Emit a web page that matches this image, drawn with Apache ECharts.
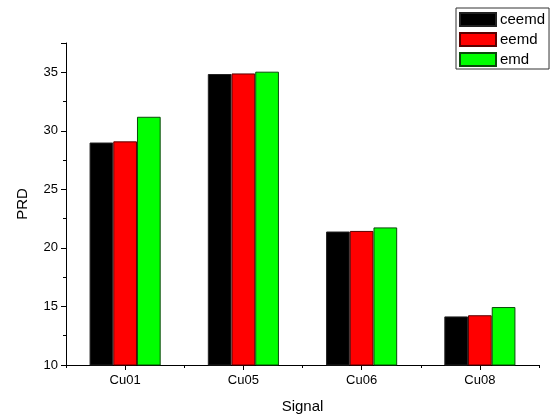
<!DOCTYPE html>
<html>
<head>
<meta charset="utf-8">
<script src="https://cdn.jsdelivr.net/npm/echarts@6/dist/echarts.min.js"></script>
<style>
  html, body { margin: 0; padding: 0; background: #fff; }
  #chart { width: 558px; height: 419px; }
</style>
</head>
<body>
<div id="chart"></div>
<script>
// PRD per signal for each decomposition method
const signals = ['Cu01', 'Cu05', 'Cu06', 'Cu08'];
const ceemd = [29.0, 34.85, 21.4, 14.15];
const eemd  = [29.1, 34.9, 21.45, 14.25];
const emd   = [31.2, 35.05, 21.75, 14.95];
const yTicks = [10, 15, 20, 25, 30, 35];

const FONT = 'Liberation Sans, Arial, sans-serif';

const methods = [
  { name: 'ceemd', data: ceemd, color: '#000000', border: '#222222' },
  { name: 'eemd',  data: eemd,  color: '#ff0000', border: '#5a0000' },
  { name: 'emd',   data: emd,   color: '#00ff00', border: '#0a4a0a' }
];

const chart = echarts.init(document.getElementById('chart'), null, { renderer: 'canvas' });

chart.setOption({
  animation: false,
  backgroundColor: '#ffffff',
  grid: { left: 66, right: 19, top: 43, bottom: 51, containLabel: false },
  legend: {
    orient: 'vertical',
    left: 456,
    top: 8,
    padding: [4, 4, 2, 3],
    itemWidth: 36,
    itemHeight: 13,
    itemGap: 5,
    borderColor: '#333',
    borderWidth: 1,
    backgroundColor: '#fff',
    icon: 'rect',
    textStyle: { fontFamily: FONT, fontSize: 15, lineHeight: 14, color: '#000', padding: [0, 0, 0, -1] },
    data: methods.map(m => m.name)
  },
  xAxis: [
    {
      type: 'category',
      data: signals,
      name: 'Signal',
      nameLocation: 'middle',
      nameGap: 34,
      nameTextStyle: { fontFamily: FONT, fontSize: 15, color: '#000' },
      axisLine: { lineStyle: { color: '#000', width: 1 } },
      axisTick: { show: true, length: 3, lineStyle: { color: '#000' } },
      axisLabel: { fontFamily: FONT, fontSize: 13, color: '#000', margin: 9 },
      splitLine: { show: false }
    },
    {
      type: 'category',
      data: signals,
      position: 'bottom',
      axisLine: { show: false },
      axisTick: { show: true, alignWithLabel: true, length: 5, lineStyle: { color: '#000' } },
      axisLabel: { show: false },
      splitLine: { show: false }
    }
  ],
  yAxis: {
    type: 'value',
    name: 'PRD',
    nameLocation: 'middle',
    nameGap: 36,
    nameTextStyle: { fontFamily: FONT, fontSize: 15, color: '#000' },
    min: 10,
    max: 37.5,
    interval: 5,
    axisLine: { show: true, lineStyle: { color: '#000', width: 1 } },
    axisTick: { show: true, length: 5, lineStyle: { color: '#000' } },
    minorTick: { show: true, splitNumber: 2, length: 3, lineStyle: { color: '#000' } },
    axisLabel: {
      fontFamily: FONT, fontSize: 13, color: '#000', margin: 8,
      formatter: v => (yTicks.indexOf(v) >= 0 ? String(v) : '')
    },
    splitLine: { show: false }
  },
  series: methods.map(m => ({
    name: m.name,
    type: 'bar',
    xAxisIndex: 0,
    data: m.data,
    barWidth: 23.7,
    barGap: '0%',
    itemStyle: { color: m.color, borderColor: m.border, borderWidth: 1 }
  }))
});
</script>
</body>
</html>
